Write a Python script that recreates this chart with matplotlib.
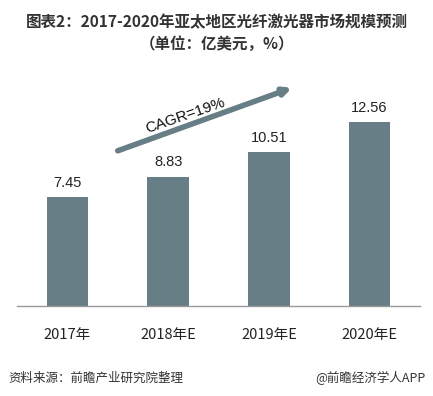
import matplotlib.pyplot as plt

plt.rcParams["font.family"] = ["Noto Sans CJK SC", "DejaVu Sans"]

years = ["2017年", "2018年E", "2019年E", "2020年E"]
values = [7.45, 8.83, 10.51, 12.56]
cagr_label = "CAGR=19%"

W, H = 433, 396
fig = plt.figure(figsize=(W / 100, H / 100), dpi=100)
fig.patch.set_facecolor("white")

# axes placed in pixel terms: baseline at y=306, x from 17 to 420
ax = fig.add_axes([17 / W, (H - 306) / H, (420 - 17) / W, (306 - 60) / H])
x = range(len(years))
ax.bar(x, values, width=0.41, color="#687e86")
ax.set_xlim(-0.5, 3.5)
ax.set_ylim(0, 16.8)
for xi, v in zip(x, values):
    ax.text(xi, v + 0.5, f"{v:.2f}", ha="center", va="bottom",
            fontsize=10.5, color="#222222", family=["Liberation Sans", "DejaVu Sans"])

ax.set_xticks(list(x))
ax.set_xticklabels(years, fontsize=10.5, color="#222222")
ax.tick_params(axis="x", length=0, pad=16)
ax.set_yticks([])
for side in ("left", "right", "top"):
    ax.spines[side].set_visible(False)
ax.spines["bottom"].set_color("#999999")
ax.spines["bottom"].set_linewidth(1.0)

# CAGR arrow
ax.annotate("", xy=(2.23, 14.9), xytext=(0.5, 10.6),
            arrowprops=dict(arrowstyle="-|>,head_length=0.45,head_width=0.22",
                            color="#687e86", lw=4, shrinkA=0, shrinkB=0))
ax.text(1.17, 13.0, cagr_label, rotation=19, ha="center", va="center",
        fontsize=11, color="#111111", family=["Liberation Sans", "DejaVu Sans"])

# titles
fig.text(0.5, 1 - 22 / H, "图表2：2017-2020年亚太地区光纤激光器市场规模预测",
         ha="center", va="center", fontsize=11.2, fontweight="bold", color="#333333")
fig.text(0.5, 1 - 44 / H, "（单位：亿美元，%）",
         ha="center", va="center", fontsize=11.2, fontweight="bold", color="#333333")

# footer
fig.text(8 / W, 1 - 378 / H, "资料来源：前瞻产业研究院整理", ha="left", va="center",
         fontsize=9, style="italic", color="#333333")
fig.text(425 / W, 1 - 378 / H, "@前瞻经济学人APP", ha="right", va="center",
         fontsize=9, color="#333333")

fig.savefig("out.png", dpi=100)
